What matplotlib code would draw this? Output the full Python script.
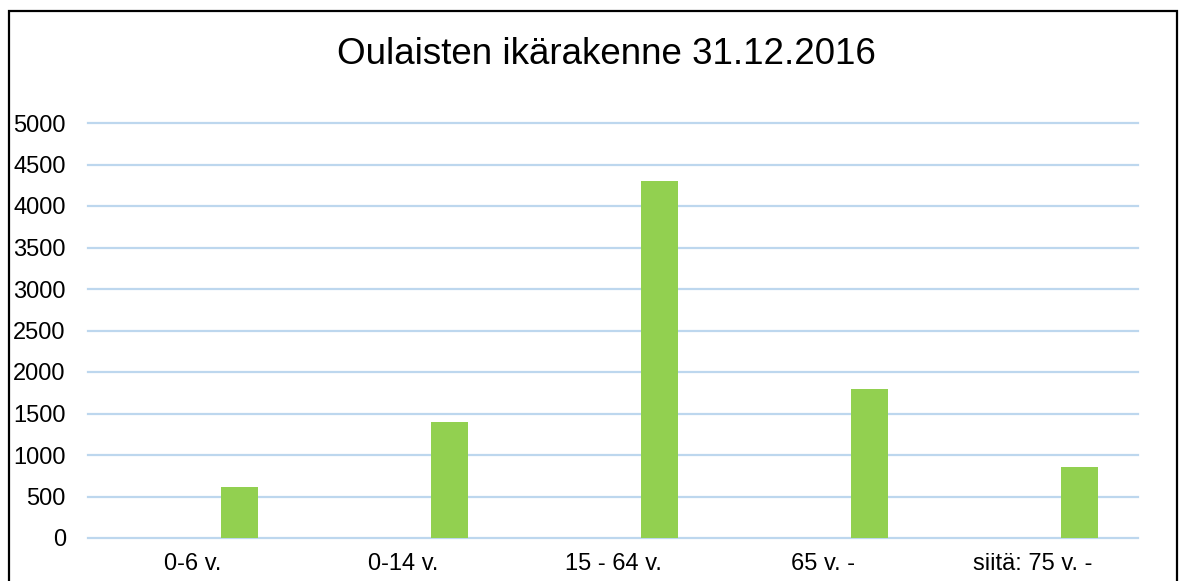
import matplotlib.pyplot as plt
import numpy as np
from matplotlib.patches import Rectangle

plt.rcParams['font.family'] = ['Liberation Sans', 'DejaVu Sans']

categories = ["0-6 v.", "0-14 v.", "15 - 64 v.", "65 v. -", "siitä: 75 v. -"]
values = [615, 1400, 4300, 1795, 852]
title = "Oulaisten ikärakenne 31.12.2016"

fig = plt.figure(figsize=(11.82, 5.81), dpi=100)
ax = fig.add_axes([88 / 1182, 43 / 581, 1050 / 1182, 415 / 581])

x = np.arange(len(categories))
ax.bar(x + 0.22, values, width=0.176, color="#92D050", zorder=3)

yticks = np.arange(0, 5001, 500)
ax.set_xlim(-0.5, len(categories) - 0.5)
ax.set_ylim(0, 5000)
ax.set_yticks(yticks)
ax.set_xticks(x)
ax.set_xticklabels(categories)
ax.tick_params(axis="both", length=0, labelsize=17, colors="black")
ax.tick_params(axis="y", pad=16)
ax.tick_params(axis="x", pad=11)
for t in yticks:
    ax.axhline(t, color="#BDD7EE", linewidth=1.6, zorder=0, clip_on=False)
for s in ax.spines.values():
    s.set_visible(False)

fig.text(0.513, 0.906, title, ha="center", va="center", fontsize=26.5)

# chart border
fig.patches.append(Rectangle((9 / 1182, -0.05), (1177 - 9) / 1182, 1 - 11 / 581 + 0.05,
                             transform=fig.transFigure, fill=False,
                             edgecolor="black", linewidth=1.6))

fig.savefig("out.png", dpi=100)
